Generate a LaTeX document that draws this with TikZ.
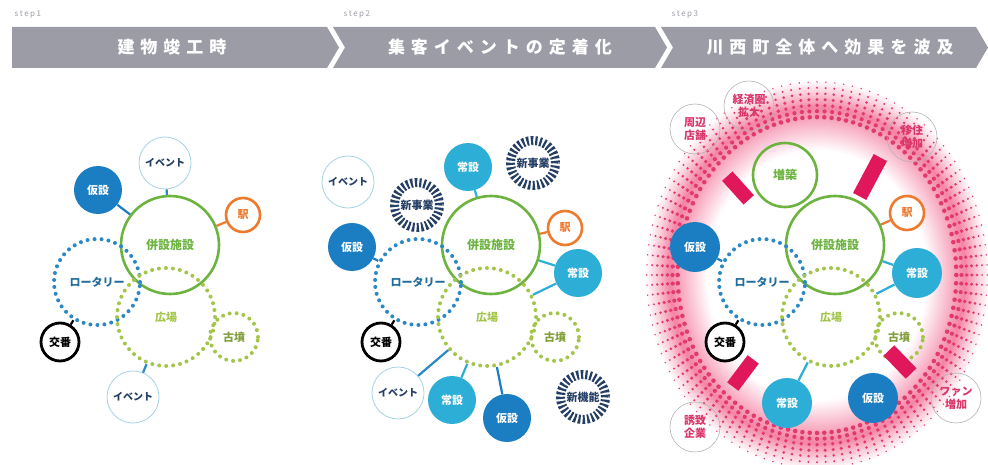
\documentclass[tikz,border=0pt]{standalone}
\usepackage{fontspec}
\newfontfamily\jp{Noto Sans CJK JP}
\usetikzlibrary{calc}

\definecolor{hdrgray}{HTML}{9C9CA6}
\definecolor{mainG}{HTML}{6CB33F}
\definecolor{plazaG}{HTML}{A3C64A}
\definecolor{rotB}{HTML}{2A88C4}
\definecolor{tempB}{HTML}{1B7DC2}
\definecolor{permC}{HTML}{2DAED6}
\definecolor{evtline}{HTML}{A6D3E3}
\definecolor{navy}{HTML}{253E64}
\definecolor{stationO}{HTML}{EE7A2E}
\definecolor{glowpink}{HTML}{F2658F}
\definecolor{dotpink}{HTML}{E33A6E}
\definecolor{barpink}{HTML}{E0175A}
\definecolor{tagpink}{HTML}{D9366A}

\pgfdeclareradialshading{pinkglow}{\pgfpoint{0bp}{0bp}}{color(0bp)=(white); color(16bp)=(white); color(21.5bp)=(glowpink!80); color(23.5bp)=(glowpink!30); color(25bp)=(white); color(50bp)=(white)}

\newcommand\hsp{\hspace{6pt}}

\tikzset{
  bubble/.style={circle, inner sep=0pt, font=\jp\bfseries\fontsize{11}{11}\selectfont},
  mainring/.style={bubble, draw=mainG, line width=2.6pt, minimum size=98pt, text=mainG, font=\jp\bfseries\fontsize{12}{12}\selectfont},
  dotring/.style={bubble, draw=#1, line width=4pt, dash pattern=on 0pt off 7pt, line cap=round},
  tempnode/.style={bubble, fill=tempB, text=white, minimum size=48pt},
  permnode/.style={bubble, fill=permC, text=white, minimum size=48pt},
  eventnode/.style={bubble, draw=evtline, line width=0.8pt, fill=white, text=navy, minimum size=52pt, font=\jp\bfseries\fontsize{10}{10}\selectfont},
  station/.style={bubble, draw=stationO, line width=2.6pt, fill=white, text=stationO, minimum size=34pt},
  police/.style={bubble, draw=black, line width=2.8pt, fill=white, text=black, minimum size=38pt},
  newbiz/.style={bubble, draw=navy, line width=9pt, dash pattern=on 2.2pt off 2.2pt, minimum size=45pt, text=navy},
  link/.style={draw=#1, line width=2.2pt},
  pinkbar/.style={rectangle, fill=barpink, inner sep=0pt},
  tag/.style={circle, draw=gray!60, line width=0.6pt, minimum size=50pt, inner sep=0pt, align=center, text=tagpink, font=\jp\bfseries\fontsize{11}{13}\selectfont},
  hdrtext/.style={text=white, font=\jp\bfseries\fontsize{17}{17}\selectfont},
  steplbl/.style={anchor=west, text=hdrgray, font=\jp\fontsize{8}{8}\selectfont}
}

\begin{document}
\begin{tikzpicture}[x=1pt, y=-1pt]
  \useasboundingbox (0,0) rectangle (988,465);

  % header arrows
  \fill[hdrgray] (12,27) -- (327,27) -- (339,47.5) -- (327,68) -- (12,68) -- cycle;
  \fill[hdrgray] (333,27) -- (655,27) -- (667,47.5) -- (655,68) -- (333,68) -- (345,47.5) -- cycle;
  \fill[hdrgray] (661,27) -- (976,27) -- (988,47.5) -- (976,68) -- (661,68) -- (673,47.5) -- cycle;
  \node[steplbl] (stp1) at (11,15) {s\kern1.5pt t\kern1.5pt e\kern1.5pt p\kern1.5pt 1};
  \node[steplbl] (stp2) at (340,15) {s\kern1.5pt t\kern1.5pt e\kern1.5pt p\kern1.5pt 2};
  \node[steplbl] (stp3) at (668,15) {s\kern1.5pt t\kern1.5pt e\kern1.5pt p\kern1.5pt 3};
  \node[hdrtext] (hdr1) at (172,47.5) {建\hsp 物\hsp 竣\hsp 工\hsp 時};
  \node[hdrtext] (hdr2) at (500,47.5) {集\hsp 客\hsp イ\hsp ベ\hsp ン\hsp ト\hsp の\hsp 定\hsp 着\hsp 化};
  \node[hdrtext] (hdr3) at (830,47.5) {川\hsp 西\hsp 町\hsp 全\hsp 体\hsp へ\hsp 効\hsp 果\hsp を\hsp 波\hsp 及};

  % step3 halo
  \begin{scope}
    \clip (0,0) rectangle (988,465);
    \shade[shading=pinkglow] (817,275) ellipse [x radius=172, y radius=195];
    \begin{scope}[shift={(817,275)}]
      \foreach \f/\s in {0.81/2.3,0.84/2.1,0.87/1.9,0.90/1.7,0.93/1.4,0.96/1.1,0.99/0.8}{
        \fill[dotpink] \foreach \a in {0,3,...,357}{ ({172*\f*cos(\a)},{195*\f*sin(\a)}) circle[radius=\s] };
      }
    \end{scope}
  \end{scope}

  % common core of each step
  \foreach \p/\dx in {A/0,B/321,C/665}{
    \node[mainring] (main\p) at (170+\dx,245) {併設施設};
    \node[dotring=rotB, minimum size=86pt, text=rotB!80!black] (rot\p) at (97+\dx,282) {ロータリー};
    \node[dotring=plazaG, minimum size=98pt, text=plazaG] (plaza\p) at (166+\dx,317) {広場};
    \node[dotring=plazaG, minimum size=48pt, text=plazaG!80!black] (kofun\p) at (234+\dx,337) {古墳};
    \node[police] (koban\p) at (60+\dx,342) {交番};
    \draw[link=black] (koban\p) -- (rot\p);
  }

  % step1
  \node[tempnode] (tempA) at (98,190) {仮設};
  \node[eventnode] (evtA1) at (165,163) {イベント};
  \node[station] (stnA) at (243,215) {駅};
  \node[eventnode] (evtA2) at (133,397) {イベント};
  \draw[link=tempB] (tempA) -- (mainA);
  \draw[link=rotB] (evtA1) -- (mainA);
  \draw[link=stationO] (stnA) -- (mainA);
  \draw[link=rotB] (evtA2) -- (plazaA);

  % step2
  \node[permnode] (permB1) at (468,167) {常設};
  \node[newbiz] (nbB1) at (533,163) {新事業};
  \node[newbiz] (nbB2) at (417,205) {新事業};
  \node[eventnode] (evtB1) at (348,182) {イベント};
  \node[tempnode] (tempB1) at (352,247) {仮設};
  \node[station] (stnB) at (565,228) {駅};
  \node[permnode] (permB2) at (578,273) {常設};
  \node[eventnode] (evtB2) at (398,393) {イベント};
  \node[permnode] (permB3) at (452,400) {常設};
  \node[tempnode] (tempB2) at (507,418) {仮設};
  \node[newbiz] (nbB3) at (583,397) {新機能};
  \draw[link=permC] (permB1) -- (mainB);
  \draw[link=tempB] (tempB1) -- (rotB);
  \draw[link=stationO] (stnB) -- (mainB);
  \draw[link=permC] (permB2) -- (mainB);
  \draw[link=permC] (permB2) -- (plazaB);
  \draw[link=rotB] (evtB2) -- (plazaB);
  \draw[link=permC] (permB3) -- (plazaB);
  \draw[link=tempB] (tempB2) -- (plazaB);

  % step3
  \node[mainring, minimum size=64pt] (annexC) at (785,175) {増築};
  \node[station] (stnC) at (907,213) {駅};
  \node[permnode, minimum size=50pt] (permC1) at (917,273) {常設};
  \node[tempnode, minimum size=50pt] (tempC1) at (695,247) {仮設};
  \node[permnode, minimum size=50pt] (permC2) at (787,403) {常設};
  \node[tempnode, minimum size=50pt] (tempC2) at (873,398) {仮設};
  \draw[link=stationO] (stnC) -- (mainC);
  \draw[link=permC] (permC1) -- (mainC);
  \draw[link=permC] (permC1) -- (plazaC);
  \draw[link=tempB] (tempC1) -- (rotC);
  \draw[link=permC] (permC2) -- (plazaC);
  \node[pinkbar, minimum width=32pt, minimum height=14pt, rotate=132] (barC1) at (738,188) {};
  \node[pinkbar, minimum width=44pt, minimum height=15pt, rotate=62] (barC2) at (870,177) {};
  \node[pinkbar, minimum width=32pt, minimum height=15pt, rotate=-46] (barC3) at (900,362) {};
  \node[pinkbar, minimum width=34pt, minimum height=14pt, rotate=53] (barC4) at (743,373) {};
  \node[tag] (shopC) at (695,129) {周辺\\店舗};
  \node[tag] (econC) at (749,106) {経済圏\\拡大};
  \node[tag] (settleC) at (912,137) {移住\\増加};
  \node[tag] (firmC) at (695,427) {誘致\\企業};
  \node[tag] (fansC) at (956,398) {ファン\\増加};
\end{tikzpicture}
\end{document}
